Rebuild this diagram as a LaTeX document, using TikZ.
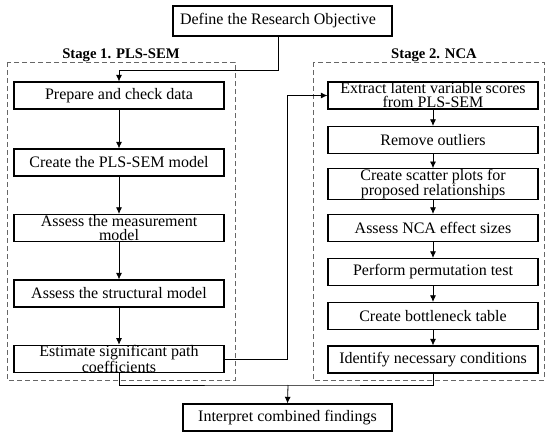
\documentclass[tikz,border=0pt]{standalone}
\usepackage{fontspec}
\setmainfont{Liberation Serif}
\usetikzlibrary{arrows.meta}
\begin{document}
\begin{tikzpicture}[x=0.75pt,y=-0.75pt,
  every node/.style={font=\fontsize{12}{10.5}\selectfont},
  box/.style={draw, line width=0.8pt, minimum width=157.5pt, minimum height=20.25pt, inner sep=0pt, align=center},
  arr/.style={line width=0.6pt, -{Latex[length=5pt,width=4.5pt]}},
  conn/.style={line width=0.6pt},
  frame/.style={draw=black!60, line width=0.7pt, dash pattern=on 3.5pt off 2.5pt},
  stagelbl/.style={font=\fontsize{11}{11}\selectfont\bfseries, anchor=base, inner sep=0pt}]
\useasboundingbox (0,0) rectangle (550,436);
% frames
\draw[frame] (7,62) rectangle (235,380);
\draw[frame] (313,62) rectangle (544,380);
\node[stagelbl] (s1) at (121,58) {Stage 1. PLS-SEM};
\node[stagelbl] (s2) at (434,58) {Stage 2. NCA};
% top
\node[draw, line width=0.8pt, minimum width=164.25pt, minimum height=22.5pt, inner sep=0pt] (def) at (282.5,21) {Define the Research Objective\kern6.75pt};
% left column
\node[box] (prep) at (119,95.5) {Prepare and check data};
\node[box] (create) at (119,162.5) {Create the PLS-SEM model};
\node[box] (meas) at (119,228) {Assess the measurement\\model};
\node[box] (struct) at (119,293.5) {Assess the structural model};
\node[box] (est) at (119,359) {Estimate significant path\\coefficients};
% right column
\node[box] (ext) at (433,95.5) {Extract latent variable scores\\from PLS-SEM};
\node[box] (rem) at (433,140) {Remove outliers};
\node[box] (scat) at (433,184) {Create scatter plots for\\proposed relationships};
\node[box] (nca) at (433,228) {Assess NCA effect sizes};
\node[box] (perm) at (433,272) {Perform permutation test};
\node[box] (bott) at (433,316) {Create bottleneck table};
\node[box] (iden) at (433,359.5) {Identify necessary conditions};
% bottom
\node[box, minimum width=156.75pt, minimum height=20.25pt] (interp) at (287.5,417.5) {Interpret combined findings};
% connectors
\coordinate (t1) at (278,70);
\draw[arr] (def.south -| t1) -- (t1) -| (prep.north);
\draw[arr] (prep) -- (create);
\draw[arr] (create) -- (meas);
\draw[arr] (meas) -- (struct);
\draw[arr] (struct) -- (est);
\coordinate (j1) at (287,0);
\draw[arr] (est.east) -| (j1 |- ext.west) -- (ext.west);
\draw[arr] (ext) -- (rem);
\draw[arr] (rem) -- (scat);
\draw[arr] (scat) -- (nca);
\draw[arr] (nca) -- (perm);
\draw[arr] (perm) -- (bott);
\draw[arr] (bott) -- (iden);
\coordinate (m) at (288,385);
\draw[conn] (est.south) |- (m) -| (iden.south);
\draw[arr] (m) -- (interp.north);
\end{tikzpicture}
\end{document}
